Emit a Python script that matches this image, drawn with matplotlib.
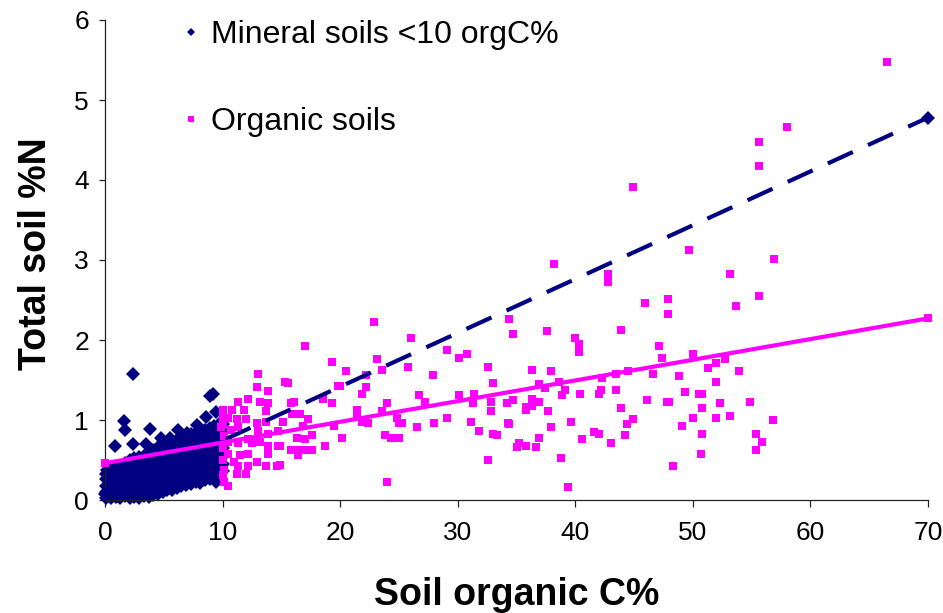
#!/usr/bin/env python3

import matplotlib
matplotlib.use('Agg')
import matplotlib.pyplot as plt
from matplotlib.lines import Line2D

#------------------------------------------------------------------------
# data (soil organic C %, total soil N %)

# mineral soils: the dense cloud below 10 orgC%, stored as columns
mineral_cols = [0.1, 0.5, 0.9, 1.3, 1.7, 2.1, 2.5, 2.9, 3.3, 3.7, 4.1, 4.5, 4.9,
                5.3, 5.7, 6.1, 6.5, 6.9, 7.3, 7.7, 8.1, 8.5, 8.9, 9.3, 9.7, 10.0]
mineral_col_n = [
    [0.03, 0.10, 0.18, 0.26, 0.33],
    [0.02, 0.09, 0.17, 0.25, 0.32, 0.40],
    [0.04, 0.12, 0.20, 0.28, 0.36, 0.43],
    [0.02, 0.10, 0.18, 0.27, 0.35, 0.43],
    [0.05, 0.13, 0.21, 0.30, 0.38, 0.46],
    [0.03, 0.11, 0.19, 0.28, 0.36, 0.44, 0.50],
    [0.04, 0.12, 0.21, 0.29, 0.37, 0.45, 0.52],
    [0.03, 0.11, 0.20, 0.28, 0.36, 0.45, 0.54],
    [0.05, 0.13, 0.21, 0.30, 0.38, 0.47, 0.55],
    [0.04, 0.12, 0.20, 0.29, 0.37, 0.46, 0.54, 0.60],
    [0.06, 0.14, 0.23, 0.31, 0.40, 0.48, 0.57, 0.63],
    [0.08, 0.16, 0.25, 0.33, 0.42, 0.50, 0.58, 0.66],
    [0.10, 0.18, 0.27, 0.35, 0.44, 0.52, 0.61, 0.68],
    [0.12, 0.20, 0.29, 0.37, 0.46, 0.54, 0.63, 0.71],
    [0.13, 0.22, 0.30, 0.39, 0.47, 0.56, 0.64, 0.73],
    [0.15, 0.24, 0.32, 0.41, 0.49, 0.58, 0.66, 0.75],
    [0.17, 0.26, 0.34, 0.43, 0.51, 0.60, 0.68, 0.77],
    [0.19, 0.27, 0.36, 0.44, 0.53, 0.61, 0.70, 0.80],
    [0.20, 0.29, 0.37, 0.46, 0.54, 0.63, 0.72, 0.82],
    [0.22, 0.30, 0.39, 0.47, 0.56, 0.65, 0.74, 0.84],
    [0.23, 0.32, 0.40, 0.49, 0.58, 0.67, 0.76, 0.86],
    [0.25, 0.33, 0.42, 0.51, 0.60, 0.69, 0.78, 0.88],
    [0.26, 0.35, 0.44, 0.53, 0.62, 0.71, 0.80, 0.90],
    [0.28, 0.37, 0.46, 0.55, 0.64, 0.73, 0.82, 0.92],
    [0.31, 0.40, 0.49, 0.58, 0.67, 0.76, 0.85, 0.95],
    [0.36, 0.45, 0.55, 0.65, 0.75, 0.85, 0.95],
]
# mineral soils: scattered points outside the cloud
mineral_out_c = [2.4, 9.2, 8.9, 1.6, 1.7, 3.8, 2.4, 0.85, 3.5, 4.8, 5.5, 6.2,
                 8.6, 9.4, 7.8, 7.0, 0.14, 9.4, 8.1]
mineral_out_n = [1.57, 1.33, 1.30, 0.99, 0.87, 0.89, 0.70, 0.67, 0.70, 0.77, 0.78, 0.87,
                 1.04, 1.10, 0.94, 0.84, 0.38, 0.22, 0.21]

organic_c = [
    66.5, 58.0, 55.6, 55.6, 49.7, 56.9, 53.2, 55.6, 53.7, 70.0, 50.0, 52.7, 52.0,
    51.3, 53.9, 52.0, 50.5, 50.8, 52.3, 54.9, 50.8, 50.0, 52.0, 53.2, 56.8, 50.8,
    55.4, 55.9, 55.4, 50.7,
    44.9, 38.2, 42.8, 42.8, 45.9, 47.9, 47.9, 34.4, 34.7, 37.6, 43.9, 40.0, 40.3,
    40.3, 47.1, 47.4, 36.3, 37.9, 38.6, 36.9, 37.4, 42.3, 43.5, 44.5, 46.6, 48.8,
    39.1, 38.9, 40.4, 42.0, 42.2, 43.5, 49.3, 34.7, 36.3, 36.3, 36.9, 35.8, 35.8,
    46.1, 47.8, 48.0, 37.7, 43.9, 34.4, 37.9, 39.6, 41.6, 42.0, 44.4, 44.9, 44.2,
    43.0, 40.6, 36.9, 35.2, 35.0, 35.8, 36.7, 38.8, 39.4, 49.1, 48.3,
    22.9, 26.0, 29.1, 30.8, 30.1, 23.1, 25.8, 23.6, 20.5, 22.2, 27.9, 32.6, 33.0,
    20.0, 22.2, 21.9, 26.7, 27.2, 24.0, 30.1, 31.4, 31.3, 32.8, 34.2, 21.4, 21.4,
    23.6, 32.8, 21.9, 22.4, 24.8, 25.0, 25.3, 26.5, 28.0, 29.1, 31.1, 31.8, 34.3,
    33.0, 33.3, 20.2, 23.8, 24.3, 25.0, 32.6, 24.0,
    17.0, 19.3, 13.0, 15.3, 15.6, 12.9, 13.9, 19.8, 12.2, 11.3, 13.2, 13.9, 15.8,
    16.1, 18.5, 19.3, 10.0, 10.8, 11.8, 13.7, 15.9, 16.6, 10.5, 11.2, 12.0, 12.9,
    13.7, 15.1, 17.3, 16.8, 19.5, 9.9, 10.7, 11.3, 13.0, 13.9, 14.7, 16.3, 17.0,
    17.6, 18.7, 10.5, 11.3, 12.2, 12.5, 13.2, 13.9, 14.7, 15.8, 16.4, 17.1, 17.6,
    16.4, 10.5, 11.5, 12.2, 13.9, 12.9, 11.0, 11.3, 12.2, 13.7, 14.6, 10.1, 11.2,
    12.0, 10.0, 10.5, 14.9, 14.9, 10.0, 10.0, 10.1, 10.0, 10.0, 10.1,
]
organic_n = [
    5.48, 4.66, 4.48, 4.18, 3.13, 3.01, 2.83, 2.55, 2.43, 2.27, 1.83, 1.76, 1.71,
    1.65, 1.61, 1.48, 1.33, 1.33, 1.21, 1.23, 1.15, 1.03, 1.03, 1.05, 1.00, 0.83,
    0.83, 0.73, 0.63, 0.58,
    3.91, 2.95, 2.83, 2.73, 2.46, 2.51, 2.33, 2.26, 2.08, 2.11, 2.13, 2.03, 1.95,
    1.85, 1.93, 1.78, 1.63, 1.61, 1.48, 1.45, 1.40, 1.53, 1.58, 1.61, 1.58, 1.55,
    1.38, 1.31, 1.33, 1.33, 1.38, 1.38, 1.35, 1.25, 1.26, 1.18, 1.23, 1.16, 1.13,
    1.25, 1.23, 1.23, 1.11, 1.15, 0.95, 0.91, 0.98, 0.85, 0.83, 0.95, 1.01, 0.81,
    0.71, 0.76, 0.78, 0.71, 0.66, 0.68, 0.66, 0.53, 0.16, 0.93, 0.43,
    2.23, 2.03, 1.88, 1.83, 1.78, 1.76, 1.66, 1.63, 1.61, 1.56, 1.56, 1.66, 1.46,
    1.43, 1.41, 1.33, 1.31, 1.23, 1.21, 1.31, 1.33, 1.21, 1.23, 1.21, 1.13, 1.06,
    1.11, 1.11, 0.98, 0.96, 1.03, 0.96, 0.96, 0.91, 0.96, 1.03, 0.98, 0.86, 0.96,
    0.83, 0.81, 0.78, 0.81, 0.78, 0.78, 0.50, 0.23,
    1.93, 1.73, 1.58, 1.48, 1.46, 1.41, 1.36, 1.43, 1.26, 1.23, 1.23, 1.21, 1.21,
    1.23, 1.26, 1.21, 1.13, 1.13, 1.13, 1.11, 1.08, 1.08, 1.03, 1.01, 1.01, 0.96,
    0.98, 0.98, 1.01, 0.93, 0.93, 0.91, 0.88, 0.91, 0.86, 0.83, 0.86, 0.78, 0.76,
    0.81, 0.68, 0.73, 0.71, 0.76, 0.71, 0.73, 0.68, 0.68, 0.63, 0.63, 0.63, 0.63,
    0.56, 0.58, 0.56, 0.58, 0.58, 0.48, 0.48, 0.43, 0.43, 0.43, 0.43, 0.38, 0.33,
    0.33, 0.31, 0.18, 0.67, 0.44, 1.05, 0.95, 0.80, 0.65, 0.50, 0.22,
]

# fitted lines (end points)
trend_c = [0.0, 70.0]
mineral_trend_n = [0.07, 4.78]
organic_trend_n = [0.46, 2.27]

x_ticks = [0, 10, 20, 30, 40, 50, 60, 70]
y_ticks = [0, 1, 2, 3, 4, 5, 6]

NAVY = '#000080'
PINK = '#FF00FF'

#------------------------------------------------------------------------

def main():
    plt.rcParams['font.family'] = ['Liberation Sans', 'DejaVu Sans']

    fig = plt.figure(figsize=(9.43, 6.13), dpi=100)
    ax = fig.add_axes([105 / 943, 113 / 613, 823 / 943, 480 / 613])

    min_c = []
    min_n = []
    for c, ns in zip(mineral_cols, mineral_col_n):
        min_c += [c] * len(ns)
        min_n += ns
    min_c += mineral_out_c
    min_n += mineral_out_n

    ax.plot(min_c, min_n, linestyle='none', marker='D', markersize=7.3,
            color=NAVY, markeredgewidth=0, clip_on=False, zorder=2)
    ax.plot(organic_c, organic_n, linestyle='none', marker='s', markersize=5.5,
            color=PINK, markeredgewidth=0, clip_on=False, zorder=3)

    ax.plot(trend_c, mineral_trend_n, color=NAVY, linewidth=3, dashes=(6.6, 4),
            dash_capstyle='butt', marker='D', markersize=7, markeredgewidth=0,
            clip_on=False, zorder=4)
    ax.plot(trend_c, organic_trend_n, color=PINK, linewidth=3, marker='s',
            markersize=5.5, markeredgewidth=0, clip_on=False, zorder=5)

    ax.set_xlim(0, 70)
    ax.set_ylim(0, 6)
    ax.set_xticks(x_ticks)
    ax.set_yticks(y_ticks)
    ax.spines['top'].set_visible(False)
    ax.spines['right'].set_visible(False)
    for s in ('left', 'bottom'):
        ax.spines[s].set_linewidth(0.9)
        ax.spines[s].set_color('#222222')
    ax.tick_params(axis='x', direction='out', length=5, width=0.9, pad=10,
                   labelsize=19, color='#222222')
    ax.tick_params(axis='y', direction='out', length=4.5, width=0.9, pad=7,
                   labelsize=19, color='#222222')

    ax.set_xlabel('Soil organic C%', fontsize=27, fontweight='bold')
    ax.set_ylabel('Total soil %N', fontsize=27, fontweight='bold')
    ax.xaxis.set_label_coords(0.5, -0.16)
    ax.yaxis.set_label_coords(-0.062, 0.5125)

    handles = [
        Line2D([], [], linestyle='none', marker='D', markersize=4.4, color=NAVY,
               markeredgewidth=0),
        Line2D([], [], linestyle='none', marker='s', markersize=4.5, color=PINK,
               markeredgewidth=0),
    ]
    ax.legend(handles, ['Mineral soils <10 orgC%', 'Organic soils'],
              loc='upper left', bbox_to_anchor=(181 / 943, 1 - 20 / 613),
              bbox_transform=fig.transFigure, frameon=False, fontsize=23,
              handlelength=0.6, handletextpad=0.33, labelspacing=1.78,
              borderpad=0, borderaxespad=0)

    fig.savefig('out.png', dpi=100)

#------------------------------------------------------------------------

if __name__ == "__main__":
    main()
